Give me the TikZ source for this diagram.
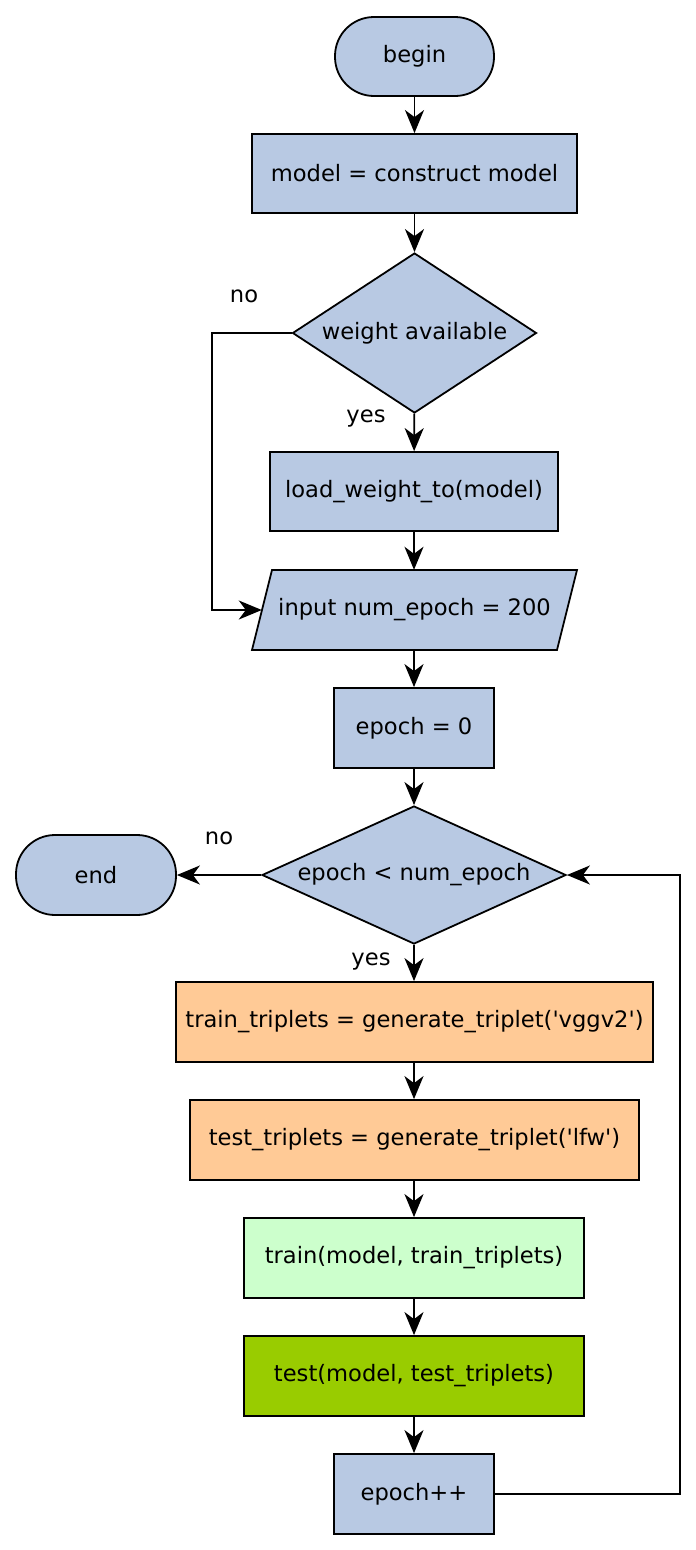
\documentclass[tikz,border=0pt]{standalone}
\usepackage{fontspec}
\setmainfont{DejaVu Sans}
\newfontfamily\df{DejaVu Sans}
\usetikzlibrary{shapes.geometric,arrows.meta}
\definecolor{fblue}{HTML}{B8C9E3}
\definecolor{forange}{HTML}{FFCA96}
\definecolor{flgreen}{HTML}{CCFFCC}
\definecolor{fgreen}{HTML}{99CC00}
\begin{document}
\begin{tikzpicture}[x=1pt,y=-1pt,
  every node/.style={font=\df\fontsize{22.6}{27}\selectfont, inner sep=0pt},
  base/.style={draw=black, line width=1.8pt},
  term/.style={base, fill=fblue, rounded corners=39pt, minimum width=159pt, minimum height=79pt},
  proc/.style={base, rectangle, minimum height=79pt},
  dec/.style={base, diamond, fill=fblue},
  lbl/.style={},
  arr/.style={line width=1.8pt, -{Stealth[length=23pt,width=19pt,inset=7pt]}},
  ln/.style={line width=1.8pt}
]
\useasboundingbox (0,0) rectangle (696,1550);
\node[term] (begin) at (414.5,56.5) {begin};
\node[proc, fill=fblue, minimum width=325pt] (model) at (414.5,173.5) {model = construct model};
\node[dec, aspect=1.525, minimum width=244pt, minimum height=160pt] (weight) at (414.5,333) {weight available};
\node[proc, fill=fblue, minimum width=288pt] (load) at (414,491.5) {load\_weight\_to(model)};
\draw[base, fill=fblue] (252,650) -- (272,570) -- (577,570) -- (557,650) -- cycle;
\node[minimum width=305pt, minimum height=80pt] (input) at (414.5,610) {input num\_epoch = 200};
\node[proc, fill=fblue, minimum width=160pt, minimum height=80pt] (e0) at (414,728) {epoch = 0};
\node[dec, aspect=2.2, minimum width=304pt, minimum height=138pt] (cond) at (414,875) {epoch < num\_epoch};
\node[term, minimum width=160pt, minimum height=80pt] (end) at (96,875) {end};
\node[proc, fill=forange, minimum width=477pt, minimum height=80pt] (trn) at (414.5,1022) {train\_triplets = generate\_triplet('vggv2')};
\node[proc, fill=forange, minimum width=449pt, minimum height=80pt] (tst) at (414.5,1140) {test\_triplets = generate\_triplet('lfw')};
\node[proc, fill=flgreen, minimum width=340pt, minimum height=80pt] (train) at (414,1258) {train(model, train\_triplets)};
\node[proc, fill=fgreen, minimum width=340pt, minimum height=80pt] (test) at (414,1376) {test(model, test\_triplets)};
\node[proc, fill=fblue, minimum width=160pt, minimum height=80pt] (inc) at (414,1494) {epoch++};

\node[lbl] (no1) at (244,296) {no};
\node[lbl] (yes1) at (366,419) {yes};
\node[lbl] (no2) at (219,838) {no};
\node[lbl] (yes2) at (371,962) {yes};

\coordinate (c1) at (212,333);
\coordinate (c2) at (212,610);
\coordinate (c3) at (680,1494);
\coordinate (c4) at (680,875);

\draw[arr] (begin) -- (model);
\draw[arr] (model) -- (weight);
\draw[arr] (weight) -- (load);
\draw[arr] (load) -- (load|-input.north);
\draw[arr] (input.south-|e0) -- (e0);
\draw[arr] (e0) -- (cond);
\draw[arr] (cond) -- (end);
\draw[arr] (cond) -- (cond|-trn.north);
\draw[arr] (trn.south-|cond) -- (cond|-tst.north);
\draw[arr] (tst.south-|cond) -- (train);
\draw[arr] (train) -- (test);
\draw[arr] (test) -- (inc);
\draw[arr] (weight.west) -- (c1) -- (c2) -- (input.west);
\draw[arr] (inc.east) -- (c3) -- (c4) -- (cond.east);
\end{tikzpicture}
\end{document}
